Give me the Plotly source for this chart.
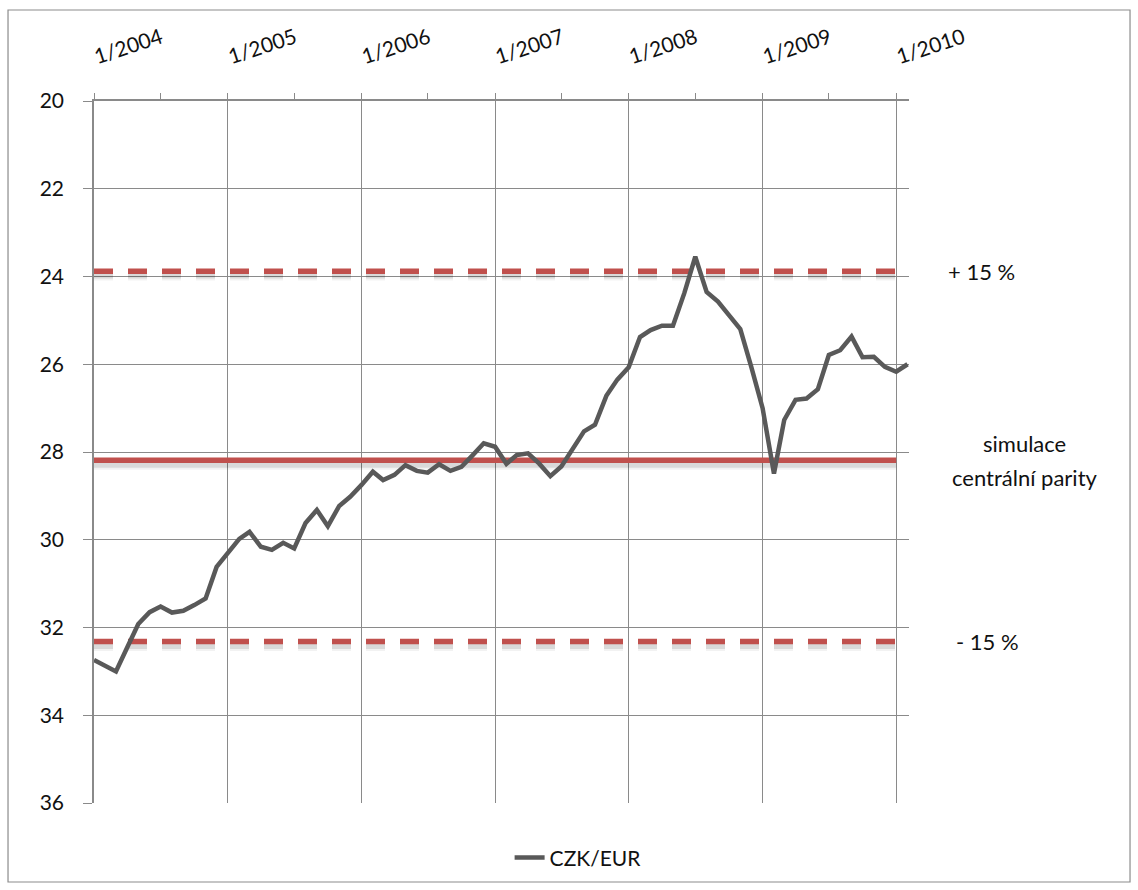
import pandas as pd
import plotly.graph_objects as go

# Monthly CZK/EUR rate, Jan 2004 - Feb 2010
months = pd.date_range("2004-01-01", periods=74, freq="MS")
czk_eur = [
    32.74, 32.87, 33.00, 32.45, 31.92, 31.65, 31.52, 31.66, 31.62, 31.49, 31.34, 30.62,  # 2004
    30.28, 29.98, 29.82, 30.16, 30.23, 30.07, 30.20, 29.62, 29.32, 29.69, 29.23, 29.02,  # 2005
    28.75, 28.45, 28.64, 28.52, 28.30, 28.43, 28.47, 28.28, 28.43, 28.34, 28.07, 27.80,  # 2006
    27.88, 28.27, 28.07, 28.03, 28.26, 28.55, 28.33, 27.92, 27.53, 27.38, 26.72, 26.35,  # 2007
    26.07, 25.38, 25.22, 25.12, 25.12, 24.38, 23.55, 24.35, 24.57, 24.88, 25.20, 26.06,  # 2008
    27.00, 28.49, 27.27, 26.81, 26.78, 26.57, 25.79, 25.68, 25.37, 25.84, 25.83, 26.06,  # 2009
    26.17, 26.00,                                                                        # 2010
]

# Fluctuation band: +15 %, simulated central parity, -15 %
band_levels = [23.88, 28.19, 32.32]
band_labels = [["+ 15 %"], ["simulace", "centrální parity"], ["- 15 %"]]
band_dash = ["19px,15px", "solid", "19px,15px"]
band_span = ["2004-01-01", "2010-01-01"]

# Axis ticks
year_ticks = pd.date_range("2004-01-01", "2010-01-01", freq="YS")
year_labels = [f"1/{d.year}" for d in year_ticks]
half_year_ticks = pd.date_range("2004-07-01", "2009-07-01", freq="12MS")
y_ticks = list(range(20, 37, 2))

FONT = "Lato, 'Open Sans', sans-serif"
TEXT = "#111111"
GRID = "#8a8a8a"
RED = "#c0504d"
SHADOW_DY = 0.1  # drop shadow offset under the band lines (y units)

fig = go.Figure()

# soft drop shadows under the band lines
for lvl, dash in zip(band_levels, band_dash):
    for w, a in [(10, 0.05), (6, 0.10)]:
        fig.add_trace(go.Scatter(
            x=band_span, y=[lvl + SHADOW_DY] * 2, mode="lines",
            line=dict(color=f"rgba(0,0,0,{a})", width=w, dash=dash),
            showlegend=False, hoverinfo="skip",
        ))

# band lines
for lvl, dash in zip(band_levels, band_dash):
    fig.add_trace(go.Scatter(
        x=band_span, y=[lvl] * 2, mode="lines",
        line=dict(color=RED, width=5.5, dash=dash),
        showlegend=False, hoverinfo="skip",
    ))

# exchange rate
fig.add_trace(go.Scatter(
    x=months, y=czk_eur, mode="lines", name="CZK/EUR",
    line=dict(color="#595959", width=4.5),
))

# band labels on the right
label_x = [1.089, 1.142, 1.096]
LINE_GAP = 34
for lvl, lines, lx in zip(band_levels, band_labels, label_x):
    n = len(lines)
    for i, txt in enumerate(lines):
        fig.add_annotation(
            x=lx, xref="paper", y=lvl, yref="y", text=txt, showarrow=False,
            xanchor="center", yanchor="middle",
            yshift=(n - 1) / 2 * LINE_GAP - i * LINE_GAP,
            font=dict(family=FONT, size=22, color=TEXT),
        )

# chart frame
fig.add_shape(
    type="rect", xref="paper", yref="paper",
    x0=-0.1055, x1=1.2712, y0=-0.1125, y1=1.1296,
    line=dict(color="#8c8c8c", width=1.2), fillcolor="rgba(0,0,0,0)",
)

fig.update_xaxes(
    type="date", side="top",
    range=["2004-01-01", "2010-02-05"],
    tickmode="array", tickvals=year_ticks, ticktext=year_labels,
    tickangle=-18, ticks="outside", ticklen=6, tickcolor=GRID, tickwidth=1,
    ticklabelstandoff=20,
    showline=True, linecolor=GRID, linewidth=1.5,
    showgrid=True, gridcolor=GRID, gridwidth=1,
    minor=dict(tickmode="array", tickvals=half_year_ticks, ticks="outside",
               ticklen=6, tickcolor=GRID, showgrid=False),
    tickfont=dict(family=FONT, size=21, color=TEXT),
    zeroline=False,
)
fig.update_yaxes(
    range=[36, 20],
    tickmode="array", tickvals=y_ticks,
    ticks="outside", ticklen=9, tickcolor=GRID, tickwidth=1,
    showline=True, linecolor=GRID, linewidth=1.5,
    showgrid=True, gridcolor=GRID, gridwidth=1,
    tickfont=dict(family=FONT, size=21, color=TEXT),
    ticklabelstandoff=15,
    zeroline=False,
)

fig.update_layout(
    width=1138, height=890,
    margin=dict(l=94, r=229, t=101, b=87),
    plot_bgcolor="white", paper_bgcolor="white",
    font=dict(family=FONT, size=20, color=TEXT),
    showlegend=True,
    legend=dict(orientation="h", x=0.594, xanchor="center", y=-0.078, yanchor="middle",
                font=dict(family=FONT, size=21, color=TEXT), bgcolor="rgba(0,0,0,0)"),
)

fig.write_html("out.html")
